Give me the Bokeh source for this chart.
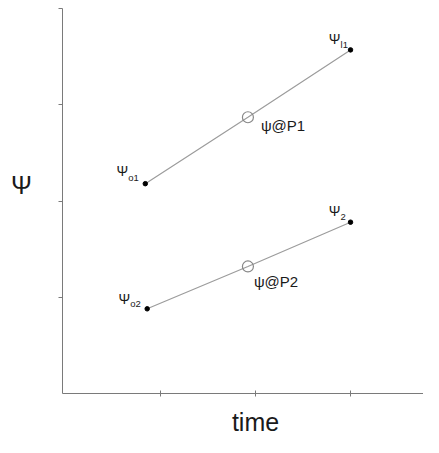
from bokeh.plotting import figure
from bokeh.models import ColumnDataSource, Label, FixedTicker, LinearAxis
from bokeh.core.properties import value
from bokeh.embed import file_html
from bokeh.resources import INLINE

# ---- data ----
start_x = [0.84, 0.86]          # psi_o1, psi_o2
start_y = [2.18, 0.88]
mid_x = [1.92, 1.92]            # psi@P1, psi@P2
mid_y = [2.87, 1.32]
end_x = [3.00, 3.00]            # psi_l1, psi_2
end_y = [3.57, 1.78]
start_subs = ["o1", "o2"]
end_subs = ["l1", "2"]
mid_labels = ["\u03c8@P1", "\u03c8@P2"]
x_ticks = [1, 2, 3]
y_ticks = [1, 2, 3, 4]

# label layout (pixel offsets)
start_psi_dy = [-13, -10]
start_sub_dy = [-6, -5]
mid_dx = [13, 6]
mid_dy = [8, 15]

FONT_NAME = "Liberation Sans"
FONT = value(FONT_NAME)
TXT = "#1a1a1a"
AX = "#7a7a7a"

X0, X1 = -0.684, 3.768
Y0, Y1 = -0.457, 4.083

p = figure(width=423, height=437, output_backend="svg", toolbar_location=None,
           x_range=(X0, X1), y_range=(Y0, Y1),
           x_axis_location=None, y_axis_location=None, min_border=0)
p.grid.visible = False
p.outline_line_color = None
p.background_fill_color = "white"

xax = LinearAxis(fixed_location=0, bounds=(-0.03, X1), ticker=FixedTicker(ticks=x_ticks))
yax = LinearAxis(fixed_location=-0.03, bounds=(0, 4), ticker=FixedTicker(ticks=y_ticks))
for ax, ticks in ((xax, x_ticks), (yax, y_ticks)):
    ax.axis_line_color = AX
    ax.major_tick_line_color = AX
    ax.minor_tick_line_color = None
    ax.major_label_overrides = {t: "" for t in ticks}
    ax.major_label_standoff = 0
xax.major_tick_in = 3
xax.major_tick_out = 3
yax.major_tick_in = 0
yax.major_tick_out = 4
p.add_layout(xax, "below")
p.add_layout(yax, "left")

# lines
for i in range(2):
    p.line([start_x[i], mid_x[i], end_x[i]], [start_y[i], mid_y[i], end_y[i]],
           line_color="#9c9c9c", line_width=1.2)

# end dots
p.scatter(start_x + end_x, start_y + end_y, size=4.5, fill_color="black", line_color="black")
# open circles
p.scatter(mid_x, mid_y, size=11, fill_color=None, line_color="#888888", line_width=1.2)

src_s = ColumnDataSource(dict(x=start_x, y=start_y, sub=start_subs, psi=["\u03a8"] * 2,
                              pdy=start_psi_dy, sdy=start_sub_dy))
src_e = ColumnDataSource(dict(x=end_x, y=end_y, sub=end_subs, psi=["\u03a8"] * 2))

p.text(x="x", y="y", text="psi", source=src_s, x_offset=-17, y_offset="pdy",
       text_align="right", text_baseline="alphabetic", text_font=FONT,
       text_font_size="14px", text_color=TXT)
p.text(x="x", y="y", text="sub", source=src_s, x_offset=-17, y_offset="sdy",
       text_align="left", text_baseline="alphabetic", text_font=FONT,
       text_font_size="9.5px", text_color=TXT)
p.text(x="x", y="y", text="psi", source=src_e, x_offset=-10, y_offset=-11,
       text_align="right", text_baseline="alphabetic", text_font=FONT,
       text_font_size="14px", text_color=TXT)
p.text(x="x", y="y", text="sub", source=src_e, x_offset=-10, y_offset=-5,
       text_align="left", text_baseline="alphabetic", text_font=FONT,
       text_font_size="9.5px", text_color=TXT)

src_m = ColumnDataSource(dict(x=mid_x, y=mid_y, t=mid_labels, dx=mid_dx, dy=mid_dy))
p.text(x="x", y="y", text="t", source=src_m, x_offset="dx", y_offset="dy",
       text_align="left", text_baseline="middle", text_font=FONT,
       text_font_size="15px", text_color=TXT)

# axis titles
p.add_layout(Label(x=-0.463, y=2.17, text="\u03a8", text_font=FONT_NAME, text_font_size="25px",
                   text_align="center", text_baseline="alphabetic", text_color=TXT))
p.add_layout(Label(x=2.0, y=-0.30, text="time", text_font=FONT_NAME, text_font_size="25px",
                   text_align="center", text_baseline="alphabetic", text_color=TXT))

open("out.html", "w").write(file_html(p, INLINE))
